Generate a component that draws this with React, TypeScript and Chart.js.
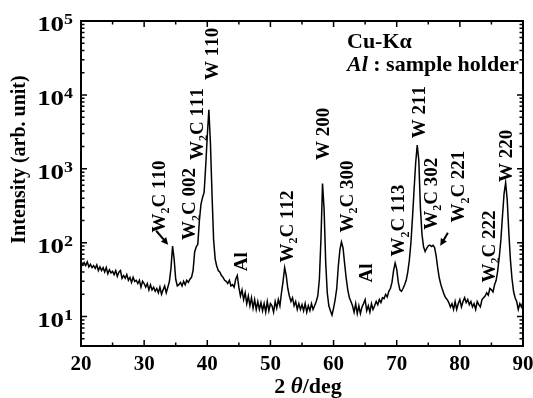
import React, { useEffect, useRef } from "react";
import { Chart, registerables } from "chart.js";

Chart.register(...registerables);

const FONT = '"Liberation Serif", "Times New Roman", serif';

// 2θ sampling grid (degrees)
const angleStart = 20;
const angleStep = 0.25;

const intensity: number[] = [
  57, 50, 54, 49, // 20
  55, 47, 51, 46, // 21
  49, 45, 50, 42, // 22
  47, 42, 46, 40, // 23
  46, 38, 43, 39, // 24
  41, 37, 42, 35, // 25
  40, 42, 33, 36, // 26
  33, 37, 31, 34, // 27
  29, 34, 30, 31, // 28
  28, 31, 25, 30, // 29
  28, 25, 28, 23, // 30
  27, 23, 25, 22, // 31
  24, 21, 25, 20, // 32
  23, 26, 21, 25, // 33
  30, 45, 90, 60, // 34
  32, 26, 27, 29, // 35
  26, 30, 27, 31, // 36
  29, 32, 34, 42, // 37
  75, 88, 95, 200, // 38
  330, 410, 480, 1100, // 39
  2800, 6300, 2200, 450, // 40
  110, 60, 48, 42, // 41
  40, 36, 34, 31, // 42
  30, 28, 31, 26, // 43
  27, 25, 32, 36, // 44
  25, 19, 23, 17, // 45
  21, 15, 19, 14, // 46
  18, 13, 17, 12.5, // 47
  16, 12.5, 15.5, 12, // 48
  15, 11.5, 16, 12, // 49
  15, 14, 11.5, 16, // 50
  13, 17, 14, 21, // 51
  30, 46, 36, 24, // 52
  19, 16, 18, 14, // 53
  16, 12.5, 15, 12.5, // 54
  14.5, 12, 15, 11.5, // 55
  14, 12, 15, 12.5, // 56
  14, 16, 19, 32, // 57
  110, 630, 280, 55, // 58
  21, 14, 12, 10.5, // 59
  13, 17, 24, 48, // 60
  80, 102, 85, 52, // 61
  33, 23, 18, 16, // 62
  14, 11.5, 15, 11, // 63
  14, 11, 13.5, 15, // 64
  17, 12, 14, 11.5, // 65
  15, 12.5, 14, 16, // 66
  14.5, 17, 15.5, 18, // 67
  17.5, 20, 18.5, 22, // 68
  24, 29, 42, 53, // 69
  44, 29, 23, 22, // 70
  24, 27, 31, 40, // 71
  58, 100, 220, 520, // 72
  1200, 2100, 1300, 300, // 73
  130, 88, 76, 84, // 74
  91, 93, 89, 92, // 75
  86, 66, 45, 33, // 76
  27, 23, 20, 18, // 77
  17, 15.5, 13.5, 15, // 78
  12.5, 16, 12.5, 15, // 79
  17, 13.5, 16, 18, // 80
  15.5, 17, 14.5, 16, // 81
  13.5, 15, 12.5, 16, // 82
  14.5, 13.5, 17, 18, // 83
  19, 21, 19.5, 24, // 84
  23, 21.5, 27, 31, // 85
  42, 65, 110, 230, // 86
  460, 650, 380, 140, // 87
  60, 33, 22, 18, // 88
  16, 12.5, 15, 13.5, // 89
  16, // 90
];

const xMin = 20;
const xMax = 90;
const yMin = 4;
const yMax = 100000;
const xMajorTicks = [20, 30, 40, 50, 60, 70, 80, 90];
const xMinorTicks = [25, 35, 45, 55, 65, 75, 85];
const yDecadeExponents = [1, 2, 3, 4, 5];

// Peak labels ("_" marks a subscript digit), their 2θ and the intensity at the label's lower end
const peakLabels = [
  "W_2C 110", "W_2C 002", "W_2C 111", "W 110", "Al", "W_2C 112", "W 200", "W_2C 300",
  "Al", "W_2C 113", "W 211", "W_2C 302", "W_2C 221", "W_2C 222", "W 220",
];
const peakLabelAngle = [32.3, 37.1, 38.3, 40.6, 45.2, 52.6, 58.3, 62.0, 65.0, 70.2, 73.5, 75.4, 79.7, 84.5, 87.2];
const peakLabelBase = [137, 109, 1320, 15900, 41, 54, 1320, 137, 29, 65, 2600, 150, 187, 29, 665];

// Arrows pointing at peaks: [2θ, intensity]
const arrowFrom = [[31.9, 145], [78.1, 136]];
const arrowTo = [[33.8, 94], [76.9, 91]];

function drawRichRotated(ctx: CanvasRenderingContext2D, x: number, y: number, label: string, size: number) {
  ctx.save();
  ctx.translate(x, y);
  ctx.rotate(-Math.PI / 2);
  ctx.textAlign = "left";
  ctx.textBaseline = "alphabetic";
  let cx = 0;
  const off = size * 0.34;
  for (let i = 0; i < label.length; i++) {
    const ch = label[i];
    if (ch === "_") {
      const s = label[i + 1];
      i++;
      ctx.font = `bold ${Math.round(size * 0.62)}px ${FONT}`;
      ctx.fillText(s, cx, off + size * 0.22);
      cx += ctx.measureText(s).width;
    } else {
      ctx.font = `bold ${size}px ${FONT}`;
      ctx.fillText(ch, cx, off);
      cx += ctx.measureText(ch).width;
    }
  }
  ctx.restore();
}

const decorPlugin = {
  id: "decor",
  afterDatasetsDraw(chart: any) {
    const ctx: CanvasRenderingContext2D = chart.ctx;
    const { left, right, top, bottom } = chart.chartArea;
    const xs = chart.scales.x;
    const ys = chart.scales.y;
    ctx.save();
    ctx.strokeStyle = "#000";
    ctx.fillStyle = "#000";
    ctx.lineWidth = 2;
    ctx.strokeRect(left, top, right - left, bottom - top);

    // ticks
    ctx.lineWidth = 1.5;
    ctx.beginPath();
    const xt = (v: number, len: number) => {
      const p = xs.getPixelForValue(v);
      ctx.moveTo(p, bottom);
      ctx.lineTo(p, bottom - len);
      ctx.moveTo(p, top);
      ctx.lineTo(p, top + len);
    };
    xMajorTicks.forEach((v) => xt(v, 6));
    xMinorTicks.forEach((v) => xt(v, 3.5));
    const yt = (v: number, len: number) => {
      const p = ys.getPixelForValue(v);
      ctx.moveTo(left, p);
      ctx.lineTo(left + len, p);
      ctx.moveTo(right, p);
      ctx.lineTo(right - len, p);
    };
    for (let e = 0; e <= 4; e++) {
      for (let k = 1; k <= 9; k++) {
        const v = k * Math.pow(10, e);
        if (v < yMin || v > yMax) continue;
        yt(v, k === 1 ? 6 : 3.5);
      }
    }
    yt(yMax, 6);
    ctx.stroke();

    // x tick labels
    ctx.font = `bold 21px ${FONT}`;
    ctx.textAlign = "center";
    ctx.textBaseline = "alphabetic";
    xMajorTicks.forEach((v) => {
      ctx.fillText(String(v), xs.getPixelForValue(v), bottom + 24);
    });

    // y tick labels 10^n (the reference glyphs are drawn wide)
    yDecadeExponents.forEach((e) => {
      const p = ys.getPixelForValue(Math.pow(10, e));
      ctx.save();
      ctx.translate(left - 8, p);
      ctx.scale(1.28, 1);
      ctx.textAlign = "right";
      ctx.font = `bold 14px ${FONT}`;
      const sw = ctx.measureText(String(e)).width;
      ctx.fillText(String(e), 0, 3);
      ctx.font = `bold 21px ${FONT}`;
      ctx.fillText("10", -sw, 10);
      ctx.restore();
    });

    // axis titles
    ctx.save();
    ctx.translate(25, (top + bottom) / 2 - 24);
    ctx.rotate(-Math.PI / 2);
    ctx.textAlign = "center";
    ctx.font = `bold 20px ${FONT}`;
    ctx.fillText("Intensity (arb. unit)", 0, 0);
    ctx.restore();

    const parts = [
      { t: "2 ", f: `bold 22px ${FONT}` },
      { t: "\u03b8", f: `italic bold 23px ${FONT}` },
      { t: "/deg", f: `bold 22px ${FONT}` },
    ];
    let tw = 0;
    parts.forEach((p) => { ctx.font = p.f; tw += ctx.measureText(p.t).width; });
    let cx = (left + right) / 2 + 6 - tw / 2;
    ctx.textAlign = "left";
    parts.forEach((p) => {
      ctx.font = p.f;
      ctx.fillText(p.t, cx, bottom + 47);
      cx += ctx.measureText(p.t).width;
    });

    // notes
    ctx.font = `bold 22px ${FONT}`;
    ctx.fillText("Cu-K\u03b1", left + 266, top + 27);
    ctx.font = `italic bold 22px ${FONT}`;
    ctx.fillText("Al", left + 266, top + 50);
    const aw = ctx.measureText("Al").width;
    ctx.font = `bold 22px ${FONT}`;
    ctx.fillText(" : sample holder", left + 266 + aw, top + 50);

    // peak labels
    peakLabels.forEach((lab, i) => {
      drawRichRotated(ctx, xs.getPixelForValue(peakLabelAngle[i]), ys.getPixelForValue(peakLabelBase[i]), lab, 19);
    });

    // arrows
    ctx.lineWidth = 2;
    arrowFrom.forEach((a, i) => {
      const x1 = xs.getPixelForValue(a[0]);
      const y1 = ys.getPixelForValue(a[1]);
      const x2 = xs.getPixelForValue(arrowTo[i][0]);
      const y2 = ys.getPixelForValue(arrowTo[i][1]);
      const ang = Math.atan2(y2 - y1, x2 - x1);
      const hl = 7;
      ctx.beginPath();
      ctx.moveTo(x1, y1);
      ctx.lineTo(x2 - Math.cos(ang) * hl * 0.8, y2 - Math.sin(ang) * hl * 0.8);
      ctx.stroke();
      ctx.beginPath();
      ctx.moveTo(x2, y2);
      ctx.lineTo(x2 - hl * Math.cos(ang) + 3.5 * Math.sin(ang), y2 - hl * Math.sin(ang) - 3.5 * Math.cos(ang));
      ctx.lineTo(x2 - hl * Math.cos(ang) - 3.5 * Math.sin(ang), y2 - hl * Math.sin(ang) + 3.5 * Math.cos(ang));
      ctx.closePath();
      ctx.fill();
    });
    ctx.restore();
  },
};

export default function App() {
  const ref = useRef<HTMLCanvasElement | null>(null);
  useEffect(() => {
    document.body.style.margin = "0";
    const canvas = ref.current;
    if (!canvas) return;
    const points = intensity.map((v, i) => ({ x: angleStart + i * angleStep, y: v }));
    const chart = new Chart(canvas, {
      type: "line",
      data: {
        datasets: [
          {
            data: points,
            borderColor: "#000",
            borderWidth: 1.5,
            pointRadius: 0,
            tension: 0,
            fill: false,
          },
        ],
      },
      options: {
        responsive: false,
        animation: false,
        events: [],
        layout: { padding: { left: 81, right: 10, top: 21, bottom: 52 } },
        plugins: { legend: { display: false }, tooltip: { enabled: false } },
        scales: {
          x: { type: "linear", min: xMin, max: xMax, display: false },
          y: { type: "logarithmic", min: yMin, max: yMax, display: false },
        },
      },
      plugins: [decorPlugin],
    });
    return () => chart.destroy();
  }, []);
  return (
    <div style={{ width: 533, height: 398, background: "#fff" }}>
      <canvas ref={ref} width={533} height={398} />
    </div>
  );
}
